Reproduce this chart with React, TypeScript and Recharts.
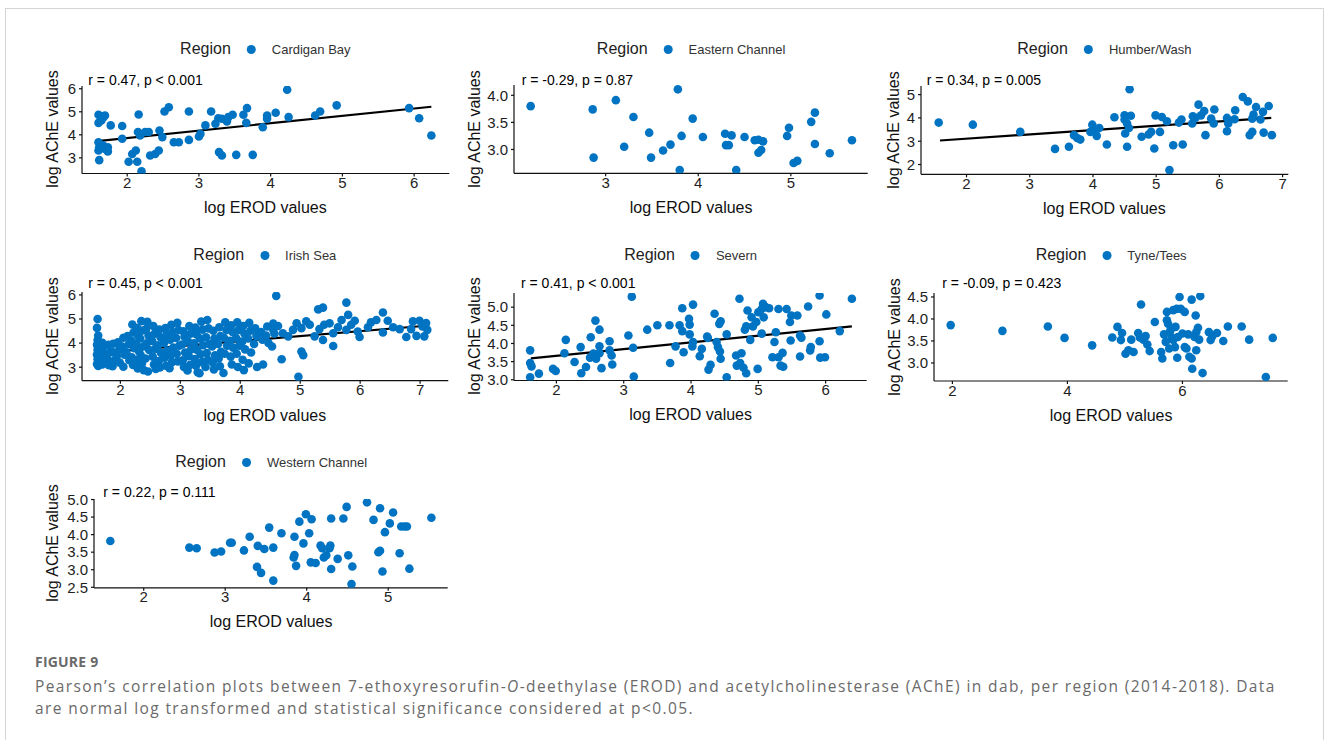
import React from 'react';
import { ScatterChart, Scatter, XAxis, YAxis, ReferenceLine } from 'recharts';

const BLUE = '#0073C2';
const FONT = '"Liberation Sans", Arial, Helvetica, sans-serif';

// log EROD (x), log AChE (y) per region
const cardiganBay: [number, number][] = [
  [1.61, 2.9], [1.6, 4.87], [1.63, 4.8], [1.67, 4.77], [1.69, 4.84], [1.6, 4.52], [1.64, 4.62],
  [1.6, 3.68], [1.61, 3.46], [1.6, 3.32], [1.66, 3.54], [1.69, 3.39], [1.73, 3.46], [1.73, 3.28],
  [1.77, 4.41], [1.93, 4.38], [1.93, 3.83], [2.02, 2.83], [2.07, 3.17], [2.12, 3.32], [2.14, 2.83],
  [2.16, 4.88], [2.15, 4.12], [2.18, 3.97], [2.2, 2.42], [2.25, 4.12], [2.3, 4.12], [2.32, 3.1],
  [2.39, 3.17], [2.44, 3.32], [2.45, 4.19], [2.49, 3.9], [2.52, 5.01], [2.58, 5.2], [2.65, 3.68],
  [2.72, 3.68], [2.86, 5.01], [2.86, 3.78], [3.0, 3.93], [3.02, 4.04], [3.09, 4.41], [3.17, 5.01],
  [3.23, 4.48], [3.27, 4.72], [3.28, 3.25], [3.32, 3.1], [3.32, 4.7], [3.39, 4.58], [3.41, 4.77],
  [3.47, 4.87], [3.52, 3.13], [3.62, 4.87], [3.67, 5.16], [3.66, 4.52], [3.75, 3.13], [3.89, 4.33],
  [3.95, 4.84], [3.95, 4.7], [4.07, 4.96], [4.23, 5.96], [4.25, 4.77], [4.62, 4.84], [4.69, 5.01],
  [4.92, 5.28], [5.93, 5.16], [6.07, 4.72], [6.24, 3.97],
];

const easternChannel: [number, number][] = [
  [2.19, 3.8], [2.86, 3.74], [2.87, 2.85], [3.11, 3.91], [3.2, 3.05], [3.3, 3.6], [3.47, 3.31],
  [3.49, 2.85], [3.62, 2.98], [3.7, 3.09], [3.78, 4.11], [3.8, 2.62], [3.82, 3.25], [3.94, 3.57],
  [4.05, 3.23], [4.29, 3.29], [4.3, 3.08], [4.33, 3.08], [4.36, 3.26], [4.41, 2.62], [4.5, 3.23],
  [4.61, 3.17], [4.65, 3.18], [4.65, 2.94], [4.68, 2.99], [4.7, 3.15], [4.96, 3.25], [4.98, 3.4],
  [5.03, 2.75], [5.07, 2.79], [5.22, 3.51], [5.26, 3.68], [5.26, 3.1], [5.42, 2.93], [5.66, 3.17],
];

const humberWash: [number, number][] = [
  [1.56, 3.8], [2.1, 3.71], [2.85, 3.4], [3.4, 2.67], [3.62, 2.76], [3.7, 3.26], [3.75, 3.14],
  [3.8, 3.07], [3.99, 3.71], [3.96, 3.4], [4.04, 3.47], [4.06, 3.23], [4.1, 3.57], [4.22, 2.86],
  [4.34, 4.03], [4.5, 4.11], [4.5, 3.93], [4.51, 3.33], [4.54, 3.76], [4.57, 3.57], [4.54, 2.76],
  [4.58, 5.23], [4.6, 4.09], [4.77, 3.19], [4.88, 3.29], [4.92, 3.4], [4.97, 2.69], [4.99, 4.11],
  [5.06, 3.4], [5.09, 4.04], [5.17, 3.86], [5.21, 1.76], [5.27, 2.83], [5.36, 3.8], [5.4, 3.93],
  [5.42, 2.86], [5.57, 3.76], [5.58, 4.07], [5.62, 4.0], [5.67, 4.57], [5.71, 4.11], [5.76, 4.3],
  [5.78, 3.26], [5.87, 3.97], [5.91, 3.76], [5.92, 4.36], [6.12, 4.0], [6.14, 3.76], [6.12, 3.43],
  [6.24, 3.94], [6.25, 4.33], [6.37, 4.9], [6.45, 4.71], [6.48, 3.26], [6.52, 3.4], [6.52, 3.97],
  [6.54, 4.14], [6.58, 4.47], [6.65, 3.93], [6.69, 4.26], [6.7, 3.37], [6.78, 4.51], [6.83, 3.26],
];

const irishSea: [number, number][] = [
  [1.62, 5.0], [1.61, 4.63], [1.63, 4.31], [1.62, 4.13], [1.64, 4.02], [1.61, 3.93], [1.63, 3.83],
  [1.62, 3.72], [1.64, 3.63], [1.61, 3.52], [1.63, 3.43], [1.62, 3.33], [1.64, 3.22], [1.61, 3.13],
  [1.63, 3.05], [1.7, 4.01], [1.72, 3.86], [1.69, 3.7], [1.71, 3.56], [1.7, 3.41], [1.73, 3.24],
  [1.7, 3.11], [1.8, 3.93], [1.82, 3.61], [1.79, 3.32], [1.81, 3.08], [1.88, 3.97], [1.86, 3.64],
  [1.91, 3.31], [1.87, 3.04], [1.96, 4.03], [1.98, 3.73], [1.94, 3.46], [1.99, 3.19], [2.05, 4.22],
  [2.03, 3.86], [2.07, 3.52], [2.05, 3.02], [2.12, 4.29], [2.14, 3.95], [2.1, 3.62], [2.15, 3.29],
  [2.2, 4.77], [2.22, 4.44], [2.18, 4.11], [2.23, 3.79], [2.19, 3.41], [2.21, 3.09], [2.28, 4.62],
  [2.3, 4.28], [2.26, 3.96], [2.31, 3.66], [2.27, 3.3], [2.29, 2.95], [2.35, 4.91], [2.37, 4.52],
  [2.33, 4.19], [2.38, 3.86], [2.34, 3.49], [2.36, 3.16], [2.39, 2.88], [2.45, 4.88], [2.43, 4.58],
  [2.47, 4.31], [2.44, 3.99], [2.48, 3.71], [2.42, 3.36], [2.46, 2.82], [2.55, 4.71], [2.57, 4.39],
  [2.53, 4.09], [2.58, 3.76], [2.54, 3.44], [2.56, 3.11], [2.59, 2.93], [2.65, 4.56], [2.67, 4.24],
  [2.63, 3.91], [2.68, 3.59], [2.64, 3.26], [2.66, 2.99], [2.75, 4.62], [2.77, 4.34], [2.73, 4.01],
  [2.78, 3.69], [2.74, 3.39], [2.76, 3.06], [2.85, 4.76], [2.87, 4.46], [2.83, 4.14], [2.88, 3.81],
  [2.84, 3.49], [2.86, 3.21], [2.82, 2.96], [2.95, 4.84], [2.97, 4.54], [2.93, 4.21], [2.98, 3.89],
  [2.94, 3.56], [2.96, 3.24], [3.05, 4.49], [3.07, 4.26], [3.03, 3.94], [3.08, 3.61], [3.04, 3.29],
  [3.06, 3.01], [3.15, 4.71], [3.17, 4.39], [3.13, 4.06], [3.18, 3.74], [3.14, 3.46], [3.16, 3.09],
  [3.12, 2.86], [3.25, 4.64], [3.27, 4.36], [3.23, 3.99], [3.28, 3.71], [3.24, 3.34], [3.26, 3.06],
  [3.29, 2.79], [3.35, 4.89], [3.37, 4.56], [3.33, 4.19], [3.38, 3.91], [3.34, 3.54], [3.36, 3.21],
  [3.32, 2.75], [3.45, 4.96], [3.47, 4.61], [3.43, 4.24], [3.48, 3.96], [3.44, 3.59], [3.46, 3.31],
  [3.42, 3.01], [3.55, 4.51], [3.57, 4.19], [3.53, 3.86], [3.58, 3.49], [3.54, 3.21], [3.56, 2.91],
  [3.65, 4.66], [3.67, 4.29], [3.63, 3.96], [3.68, 3.64], [3.64, 3.36], [3.66, 3.04], [3.75, 4.86],
  [3.77, 4.54], [3.73, 4.21], [3.78, 3.89], [3.74, 3.56], [3.72, 2.76], [3.85, 4.74], [3.87, 4.46],
  [3.83, 4.09], [3.88, 3.81], [3.84, 3.44], [3.86, 3.11], [3.95, 4.86], [3.97, 4.54], [3.93, 4.21],
  [3.98, 3.89], [3.94, 3.56], [3.96, 3.01], [4.05, 4.71], [4.07, 4.39], [4.03, 4.06], [4.08, 3.74],
  [4.04, 3.31], [4.06, 2.88], [4.15, 4.84], [4.17, 4.51], [4.13, 4.19], [4.18, 3.61], [4.14, 3.16],
  [4.25, 4.61], [4.27, 4.29], [4.23, 3.96], [4.28, 3.01], [4.35, 4.46], [4.37, 4.14], [4.38, 3.11],
  [4.45, 4.69], [4.43, 4.31], [4.47, 4.01], [4.55, 4.81], [4.57, 4.39], [4.53, 3.86], [4.6, 5.96],
  [4.69, 3.33], [4.97, 2.6], [5.02, 3.65], [5.05, 3.5], [4.55, 4.55], [4.63, 4.71], [4.71, 4.41],
  [4.8, 4.28], [4.88, 4.55], [4.94, 4.82], [5.02, 4.62], [5.1, 4.9], [5.16, 4.76], [5.24, 4.28],
  [5.3, 5.4], [5.32, 4.58], [5.38, 5.47], [5.38, 4.13], [5.4, 4.76], [5.49, 4.82], [5.55, 4.41],
  [5.55, 3.88], [5.63, 4.66], [5.69, 4.96], [5.77, 4.55], [5.77, 5.68], [5.8, 5.17], [5.85, 4.76],
  [5.91, 4.93], [5.96, 4.48], [5.99, 4.25], [6.13, 4.66], [6.18, 4.86], [6.27, 4.96], [6.38, 4.44],
  [6.38, 5.27], [6.46, 4.93], [6.55, 4.66], [6.66, 4.58], [6.77, 4.25], [6.85, 4.58], [6.88, 4.9],
  [6.94, 4.3], [6.99, 4.93], [7.04, 4.69], [7.07, 4.28], [7.1, 4.83], [7.12, 4.55],
];

const severn: [number, number][] = [
  [1.61, 3.81], [1.61, 3.46], [1.63, 3.37], [1.61, 3.07], [1.74, 3.17], [1.95, 3.3], [1.99, 3.24],
  [2.14, 4.1], [2.12, 3.73], [2.27, 3.49], [2.36, 3.9], [2.37, 3.18], [2.44, 3.35], [2.51, 4.17],
  [2.5, 3.61], [2.55, 3.72], [2.58, 4.63], [2.59, 3.58], [2.64, 4.38], [2.64, 3.92], [2.67, 3.32],
  [2.64, 3.73], [2.79, 4.06], [2.82, 3.67], [2.83, 3.42], [2.79, 3.81], [3.07, 4.22], [3.12, 5.29],
  [3.14, 3.88], [3.15, 3.09], [3.35, 4.38], [3.5, 4.5], [3.68, 4.5], [3.69, 3.46], [3.77, 3.92],
  [3.83, 4.5], [3.87, 4.97], [3.87, 4.34], [3.89, 3.76], [3.97, 4.68], [3.98, 4.52], [3.98, 4.25],
  [4.03, 5.07], [4.02, 3.92], [4.03, 4.04], [4.16, 3.85], [4.13, 3.65], [4.24, 4.19], [4.25, 4.15],
  [4.26, 3.28], [4.29, 3.41], [4.35, 4.82], [4.38, 4.04], [4.4, 3.9], [4.42, 4.54], [4.43, 3.78],
  [4.44, 3.58], [4.44, 4.61], [4.53, 4.25], [4.53, 3.07], [4.67, 3.67], [4.68, 3.39], [4.72, 5.23],
  [4.73, 3.46], [4.75, 3.73], [4.78, 3.33], [4.8, 4.38], [4.82, 4.47], [4.82, 3.18], [4.84, 4.91],
  [4.88, 4.1], [4.9, 4.72], [4.92, 4.47], [4.97, 4.59], [5.0, 4.86], [4.99, 3.3], [5.05, 4.95],
  [5.07, 5.09], [5.08, 4.72], [5.05, 4.27], [5.11, 5.0], [5.16, 4.97], [5.21, 3.62], [5.24, 4.04],
  [5.26, 4.31], [5.3, 4.95], [5.3, 3.62], [5.33, 3.39], [5.36, 3.74], [5.37, 3.36], [5.42, 4.95],
  [5.47, 4.59], [5.48, 4.08], [5.49, 4.77], [5.58, 4.77], [5.62, 3.64], [5.62, 4.22], [5.64, 4.16],
  [5.74, 5.02], [5.77, 3.81], [5.78, 3.9], [5.91, 5.32], [5.91, 4.06], [5.92, 3.61], [5.99, 3.62],
  [6.01, 4.8], [6.21, 4.34], [6.39, 5.23],
];

const tyneTees: [number, number][] = [
  [1.97, 3.86], [2.87, 3.73], [3.66, 3.83], [3.95, 3.57], [4.43, 3.4], [4.78, 3.58], [4.87, 3.82],
  [4.93, 3.52], [4.95, 3.68], [5.01, 3.21], [5.06, 3.29], [5.11, 3.53], [5.15, 3.25], [5.23, 3.68],
  [5.26, 3.58], [5.28, 4.33], [5.32, 3.53], [5.36, 3.61], [5.39, 3.42], [5.43, 3.27], [5.52, 3.93],
  [5.63, 3.25], [5.65, 3.1], [5.68, 3.65], [5.71, 3.48], [5.73, 4.16], [5.73, 3.97], [5.75, 3.89],
  [5.77, 3.33], [5.79, 3.74], [5.81, 3.59], [5.84, 4.2], [5.84, 3.52], [5.87, 3.36], [5.88, 3.82],
  [5.9, 4.23], [5.91, 3.12], [5.92, 3.59], [5.95, 4.5], [5.97, 4.23], [6.0, 3.67], [6.04, 4.16],
  [6.04, 3.36], [6.07, 3.33], [6.1, 3.65], [6.12, 3.14], [6.16, 3.1], [6.16, 4.44], [6.17, 2.87],
  [6.21, 3.59], [6.23, 4.08], [6.24, 3.7], [6.24, 3.29], [6.27, 3.8], [6.29, 3.53], [6.31, 4.52],
  [6.35, 2.77], [6.46, 3.7], [6.49, 3.52], [6.52, 3.61], [6.6, 3.68], [6.71, 3.5], [6.79, 3.83],
  [7.03, 3.83], [7.16, 3.53], [7.45, 2.68], [7.57, 3.57],
];

const westernChannel: [number, number][] = [
  [1.59, 3.82], [2.56, 3.63], [2.65, 3.61], [2.87, 3.49], [2.95, 3.52], [3.06, 3.77], [3.08, 3.77],
  [3.23, 3.55], [3.3, 3.94], [3.39, 3.08], [3.4, 3.68], [3.44, 2.91], [3.48, 3.59], [3.54, 4.2],
  [3.59, 3.63], [3.59, 2.69], [3.69, 4.04], [3.85, 3.94], [3.85, 3.42], [3.84, 3.35], [3.87, 3.11],
  [3.91, 4.37], [3.96, 3.75], [3.99, 4.58], [4.03, 4.04], [4.05, 3.21], [4.06, 4.44], [4.11, 3.19],
  [4.17, 3.69], [4.19, 3.61], [4.21, 3.35], [4.24, 3.41], [4.28, 3.61], [4.29, 3.69], [4.3, 4.46],
  [4.3, 3.02], [4.38, 3.31], [4.45, 4.46], [4.49, 4.79], [4.51, 3.41], [4.55, 2.59], [4.56, 3.09],
  [4.74, 4.92], [4.82, 4.42], [4.88, 3.5], [4.9, 4.75], [4.9, 3.54], [4.93, 2.95], [4.96, 4.07],
  [5.02, 4.32], [5.06, 4.63], [5.14, 3.47], [5.16, 4.23], [5.2, 4.23], [5.23, 4.23], [5.26, 3.03],
  [5.53, 4.48],
];

// fitted lines (start and end) for the significant regions
const cardiganFit: [number, number][] = [[1.62, 3.74], [6.24, 5.22]];
const humberFit: [number, number][] = [[1.58, 3.03], [6.82, 4.0]];
const irishFit: [number, number][] = [[1.64, 3.6], [7.15, 4.73]];
const severnFit: [number, number][] = [[1.62, 3.59], [6.39, 4.47]];

const cardiganXTicks = [2, 3, 4, 5, 6];
const cardiganYTicks = [3, 4, 5, 6];
const easternXTicks = [3, 4, 5];
const easternYTicks = [3.0, 3.5, 4.0];
const humberXTicks = [2, 3, 4, 5, 6, 7];
const humberYTicks = [2, 3, 4, 5];
const irishXTicks = [2, 3, 4, 5, 6, 7];
const irishYTicks = [3, 4, 5, 6];
const severnXTicks = [2, 3, 4, 5, 6];
const severnYTicks = [3.0, 3.5, 4.0, 4.5, 5.0];
const tyneXTicks = [2, 4, 6];
const tyneYTicks = [3.0, 3.5, 4.0, 4.5];
const westernXTicks = [2, 3, 4, 5];
const westernYTicks = [2.5, 3.0, 3.5, 4.0, 4.5, 5.0];

const panels = [
  {
    name: 'Cardigan Bay', data: cardiganBay, fit: cardiganFit, stat: 'r = 0.47, p < 0.001',
    xTicks: cardiganXTicks, yTicks: cardiganYTicks, xDomain: [1.37, 6.49], yDomain: [2.32, 6.12], dec: 0,
    L: 81.7, R: 449, T: 85.5, B: 173, titleX: 53.3, statX: 88.3, statY: 80, legendY: 49,
  },
  {
    name: 'Eastern Channel', data: easternChannel, fit: null, stat: 'r = -0.29, p = 0.87',
    xTicks: easternXTicks, yTicks: easternYTicks, xDomain: [2.01, 5.83], yDomain: [2.56, 4.19], dec: 1,
    L: 514.3, R: 868, T: 84.7, B: 173, titleX: 475, statX: 521.7, statY: 80, legendY: 49,
  },
  {
    name: 'Humber/Wash', data: humberWash, fit: humberFit, stat: 'r = 0.34, p = 0.005',
    xTicks: humberXTicks, yTicks: humberYTicks, xDomain: [1.28, 7.09], yDomain: [1.58, 5.37], dec: 0,
    L: 920.7, R: 1288, T: 85.7, B: 174, titleX: 894, statX: 926.7, statY: 80, legendY: 49,
  },
  {
    name: 'Irish Sea', data: irishSea, fit: irishFit, stat: 'r = 0.45, p < 0.001',
    xTicks: irishXTicks, yTicks: irishYTicks, xDomain: [1.36, 7.47], yDomain: [2.44, 6.12], dec: 0,
    L: 81.7, R: 448, T: 292, B: 380.7, titleX: 53.3, statX: 88.3, statY: 282.7, legendY: 255,
  },
  {
    name: 'Severn', data: severn, fit: severnFit, stat: 'r = 0.41, p < 0.001',
    xTicks: severnXTicks, yTicks: severnYTicks, xDomain: [1.37, 6.61], yDomain: [2.98, 5.39], dec: 1,
    L: 514.3, R: 867, T: 292.5, B: 380, titleX: 475, statX: 521, statY: 282.7, legendY: 255,
  },
  {
    name: 'Tyne/Tees', data: tyneTees, fit: null, stat: 'r = -0.09, p = 0.423',
    xTicks: tyneXTicks, yTicks: tyneYTicks, xDomain: [1.68, 7.83], yDomain: [2.59, 4.59], dec: 1,
    L: 934.3, R: 1288, T: 292.7, B: 380.7, titleX: 895, statX: 942.3, statY: 282.7, legendY: 255,
  },
  {
    name: 'Western Channel', data: westernChannel, fit: null, stat: 'r = 0.22, p = 0.111',
    xTicks: westernXTicks, yTicks: westernYTicks, xDomain: [1.39, 5.73], yDomain: [2.485, 5.015], dec: 1,
    L: 94.3, R: 448, T: 498.5, B: 587.3, titleX: 53.3, statX: 103.3, statY: 492, legendY: 462,
  },
];

const Dot = (props: any) => <circle cx={props.cx} cy={props.cy} r={4.3} fill={BLUE} />;

function Panel({ p }: { p: (typeof panels)[number] }) {
  const padL = 60;
  const padT = 10;
  const padR = 12;
  const padB = 26;
  const w = p.R - p.L;
  const h = p.B - p.T;
  const pts = p.data.map(([x, y]) => ({ x, y }));
  const tick = { fontSize: 15, fill: '#1e1e1e', fontFamily: FONT };
  const axisLine = { stroke: '#111', strokeWidth: 1.2 };
  return (
    <>
      <div style={{ position: 'absolute', left: p.L - padL, top: p.T - padT }}>
        <ScatterChart
          width={w + padL + padR}
          height={h + padT + padB}
          margin={{ top: padT, right: padR, left: 0, bottom: 0 }}
        >
          <XAxis
            type="number"
            dataKey="x"
            domain={p.xDomain}
            ticks={p.xTicks}
            interval={0}
            allowDataOverflow
            height={padB}
            tick={tick}
            tickSize={3}
            tickMargin={1}
            axisLine={axisLine}
            tickLine={axisLine}
          />
          <YAxis
            type="number"
            dataKey="y"
            domain={p.yDomain}
            ticks={p.yTicks}
            interval={0}
            allowDataOverflow
            width={padL}
            tick={tick}
            tickSize={3}
            tickMargin={3}
            axisLine={axisLine}
            tickLine={axisLine}
            tickFormatter={(v: number) => v.toFixed(p.dec)}
          />
          <Scatter data={pts} shape={Dot} isAnimationActive={false} />
          {p.fit && (
            <ReferenceLine
              segment={[
                { x: p.fit[0][0], y: p.fit[0][1] },
                { x: p.fit[1][0], y: p.fit[1][1] },
              ]}
              stroke="#000"
              strokeWidth={2.2}
              ifOverflow="visible"
            />
          )}
        </ScatterChart>
      </div>
      <div
        style={{
          position: 'absolute', left: (p.L + p.R) / 2, top: p.legendY,
          transform: 'translate(-50%, -50%)', display: 'flex', alignItems: 'center',
          whiteSpace: 'nowrap', color: '#222',
        }}
      >
        <span style={{ fontSize: 16 }}>Region</span>
        <span
          style={{
            display: 'inline-block', width: 9, height: 9, borderRadius: '50%',
            background: BLUE, margin: '0 16px 0 16px',
          }}
        />
        <span style={{ fontSize: 13, color: '#333' }}>{p.name}</span>
      </div>
      <div
        style={{
          position: 'absolute', left: p.statX, top: p.statY, transform: 'translateY(-50%)',
          fontSize: 14, color: '#000', whiteSpace: 'nowrap', lineHeight: '16px',
        }}
      >
        {p.stat}
      </div>
      <div
        style={{
          position: 'absolute', left: (p.L + p.R) / 2, top: p.B + 35,
          transform: 'translate(-50%, -50%)', fontSize: 16, color: '#111', whiteSpace: 'nowrap',
        }}
      >
        log EROD values
      </div>
      <div
        style={{
          position: 'absolute', left: p.titleX, top: (p.T + p.B) / 2,
          transform: 'translate(-50%, -50%) rotate(-90deg)', fontSize: 16, color: '#111',
          whiteSpace: 'nowrap',
        }}
      >
        log AChE values
      </div>
    </>
  );
}

const captionStyle: React.CSSProperties = {
  position: 'absolute', left: 35, fontFamily: '"Open Sans", sans-serif', fontSize: 15.5,
  lineHeight: '18px', color: '#6a6a6a', whiteSpace: 'nowrap', letterSpacing: 1.4,
};

export default function App() {
  return (
    <div style={{ position: 'relative', width: 1328, height: 740, overflow: 'hidden', fontFamily: FONT, background: '#fff' }}>
      <style>{'body{margin:0}'}</style>
      <div
        style={{
          position: 'absolute', left: 5, top: 8, width: 1317, height: 800,
          borderTop: '1px solid #d4d4d4', borderLeft: '1px solid #d4d4d4', borderRight: '1px solid #d4d4d4',
        }}
      />
      {panels.map((p) => (
        <Panel key={p.name} p={p} />
      ))}
      <div
        style={{
          position: 'absolute', left: 35, top: 652, fontFamily: '"Open Sans", sans-serif',
          fontSize: 14, fontWeight: 700, color: '#6a6a6a', letterSpacing: 0.2,
        }}
      >
        FIGURE 9
      </div>
      <div style={{ ...captionStyle, top: 676.5 }}>
        Pearson’s correlation plots between 7-ethoxyresorufin-<i>O</i>-deethylase (EROD) and acetylcholinesterase (AChE) in dab, per region (2014-2018). Data
      </div>
      <div style={{ ...captionStyle, top: 698.5 }}>
        are normal log transformed and statistical significance considered at p&lt;0.05.
      </div>
    </div>
  );
}
